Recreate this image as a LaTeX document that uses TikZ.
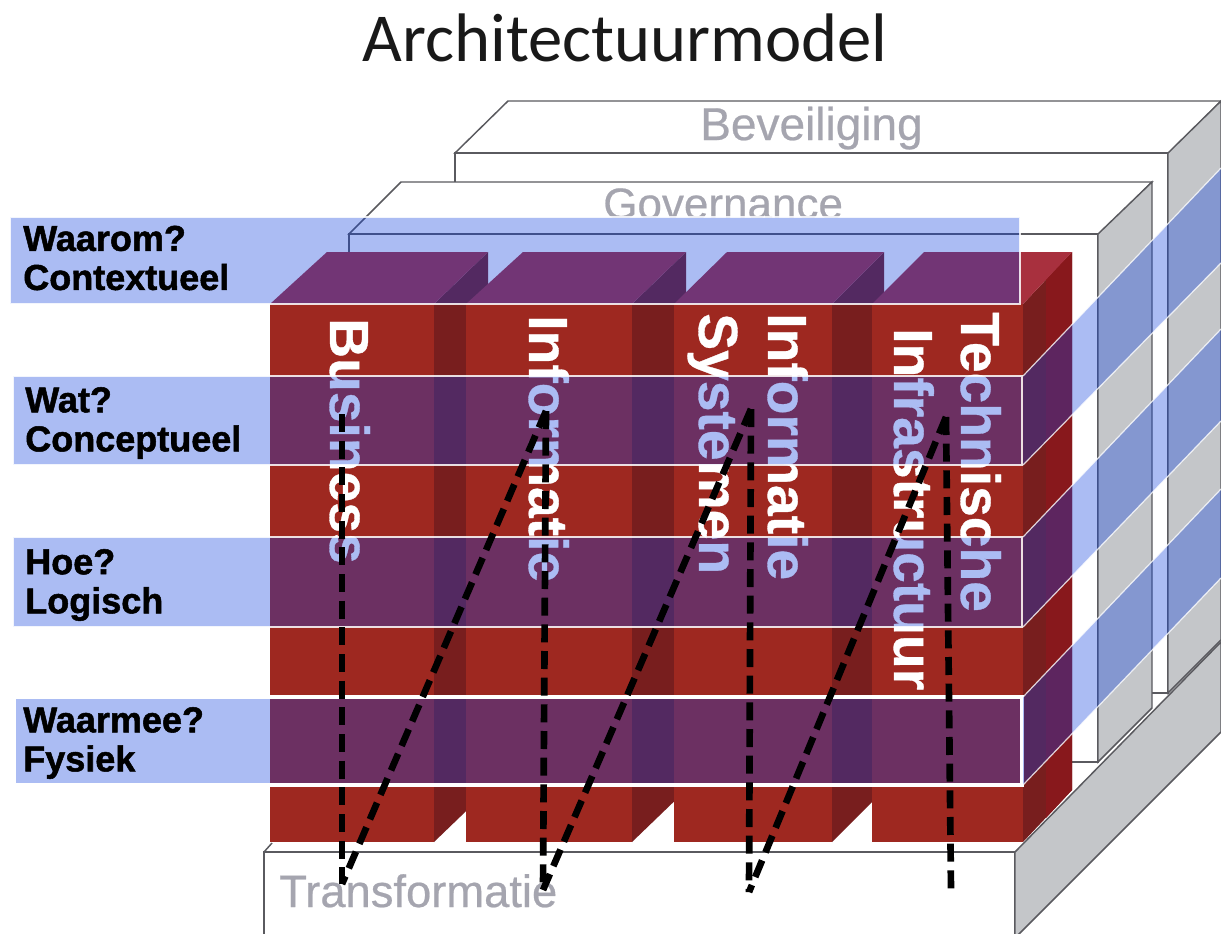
\documentclass[tikz,border=0pt]{standalone}
\usepackage{fontspec}
\setmainfont{Liberation Sans}
\newfontfamily\titlefont{Carlito}
\newfontfamily\heavyfont[FakeBold=1.4]{Liberation Sans Bold}
\newfontfamily\columnfont[FakeBold=0.6]{Liberation Sans Bold}
\newfontfamily\softfont[FakeBold=0.5]{Liberation Sans}
\definecolor{colfront}{RGB}{158,40,32}
\definecolor{colside}{RGB}{120,30,30}
\definecolor{colsidetwo}{RGB}{136,24,28}
\definecolor{coltop}{RGB}{168,48,62}
\definecolor{sidegray}{RGB}{196,198,201}
\definecolor{edgegray}{RGB}{90,90,95}
\definecolor{labgray}{RGB}{165,165,175}
\definecolor{bandblue}{RGB}{15,64,222}
\tikzset{
  x=0.75pt,y=-0.75pt,
  whiteface/.style={fill=white,draw=edgegray,line width=1.1pt},
  grayface/.style={fill=sidegray,draw=edgegray,line width=1.1pt},
  bandfront/.style={fill=bandblue,fill opacity=.35,draw=white,draw opacity=.85,line width=.9pt},
  bandstrong/.style={fill=bandblue,fill opacity=.35,draw=white,draw opacity=1,line width=2.6pt},
  bandside/.style={fill=bandblue,fill opacity=.35},
  bandedge/.style={draw=white,draw opacity=.8,line width=.9pt},
  collabel/.style={rotate=-90,anchor=base west,inner sep=0pt,text=white,font=\columnfont\fontsize{41.4}{46}\selectfont},
  graylabel/.style={anchor=base west,inner sep=0pt,text=labgray},
  rowlabel/.style={anchor=west,inner sep=0pt,align=left,text=black,font=\heavyfont\fontsize{27}{29.3}\selectfont},
  dashline/.style={draw=black,line width=5pt,dash pattern=on 13.5pt off 6.5pt},
}
\begin{document}
\begin{tikzpicture}
\useasboundingbox (0,0) rectangle (1221,933);
\clip (0,0) rectangle (1221,933);
\fill[white] (0,0) rectangle (1221,933);

% title
\node[anchor=base,inner sep=0pt,font=\titlefont\fontsize{51.5}{60}\selectfont,text=black!90] (title) at (625,61) {Architectuurmodel};

% Beveiliging block
\draw[whiteface] (455,153) -- (508,101) -- (1221,101) -- (1170,153) -- cycle;
\draw[whiteface] (455,153) rectangle (1168,693);
\draw[grayface] (1168,153) -- (1221,101) -- (1221,640) -- (1168,693) -- cycle;
\node[graylabel,font=\softfont\fontsize{34.5}{40}\selectfont] (bev) at (700,140) {Beveiliging};

% Governance block
\draw[whiteface] (349,234) -- (401,182) -- (1152,182) -- (1100,234) -- cycle;
\draw[whiteface] (349,234) rectangle (1098,762);
\draw[grayface] (1098,234) -- (1152,182) -- (1152,708) -- (1098,762) -- cycle;
\begin{scope}
\clip (500,150) rectangle (900,217);
\node[graylabel,font=\softfont\fontsize{33}{40}\selectfont] (gov) at (603,219) {Governance};
\end{scope}

% Transformatie block
\draw[edgegray,line width=1.1pt] (264,852) -- (272,843);
\draw[whiteface] (264,852) rectangle (1015,960);
\draw[grayface] (1015,852) -- (1221,642) -- (1221,732) -- (1015,938) -- cycle;
\node[graylabel,font=\softfont\fontsize{34}{40}\selectfont] (trans) at (279,907) {Transformatie};

% column 1
\fill[colside] (434,304) -- (488,252) -- (488,790) -- (434,842) -- cycle;
\fill[coltop] (270,304) -- (327,252) -- (488,252) -- (434,304) -- cycle;
\fill[colfront] (270,304) rectangle (434,842);
% column 2
\fill[colside] (632,304) -- (686,252) -- (686,790) -- (632,842) -- cycle;
\fill[coltop] (466,304) -- (523,252) -- (686,252) -- (632,304) -- cycle;
\fill[colfront] (466,304) rectangle (632,842);
% column 3
\fill[colside] (832,304) -- (884,252) -- (884,790) -- (832,842) -- cycle;
\fill[coltop] (674,304) -- (727,252) -- (884,252) -- (832,304) -- cycle;
\fill[colfront] (674,304) rectangle (832,842);
% column 4
\fill[colside] (1023,304) -- (1072,252) -- (1072,790) -- (1023,842) -- cycle;
\fill[colsidetwo] (1046,279) -- (1072,252) -- (1072,790) -- (1046,818) -- cycle;
\fill[coltop] (872,304) -- (924,252) -- (1072,252) -- (1023,304) -- cycle;
\fill[colfront] (872,304) rectangle (1023,842);

% column labels
\node[collabel] (business) at (330,318) {Business};
\node[collabel] (info) at (529,315) {Informatie};
\node[collabel] (infosys) at (768,313) {Informatie};
\node[collabel] (sys) at (699,313) {Systemen};
\node[collabel] (tech) at (961,312) {Technische};
\node[collabel] (infra) at (894,328) {Infrastructuur};

% bands
\path[bandfront] (10,217) rectangle (1020,304);
\path[bandfront] (13,376) rectangle (1022,465);
\path[bandfront] (13,537) rectangle (1022,627);
\path[bandstrong] (14,697) rectangle (1022,785);
\fill[bandside] (1023,376) -- (1221,168) -- (1221,263) -- (1023,465) -- cycle;
\fill[bandside] (1023,537) -- (1221,329) -- (1221,421) -- (1023,627) -- cycle;
\fill[bandside] (1023,697) -- (1221,489) -- (1221,578) -- (1023,785) -- cycle;
\draw[bandedge] (1023,376) -- (1221,168) (1023,465) -- (1221,263);
\draw[bandedge] (1023,537) -- (1221,329) (1023,627) -- (1221,421);
\draw[bandedge] (1023,697) -- (1221,489) (1023,785) -- (1221,578);

% row labels
\node[rowlabel] (waarom) at (23,258) {Waarom?\\Contextueel};
\node[rowlabel] (wat) at (25,423) {Wat?\\Conceptueel};
\node[rowlabel] (hoe) at (25,585) {Hoe?\\Logisch};
\node[rowlabel] (waarmee) at (23,743) {Waarmee?\\Fysiek};

% route
\coordinate (t1) at (342,414);
\coordinate (b1) at (342,884);
\coordinate (t2) at (546,411);
\coordinate (b2) at (543,890);
\coordinate (t3) at (751,409);
\coordinate (b3) at (749,892);
\coordinate (t4) at (946,417);
\coordinate (b4) at (951,890);
\draw[dashline] (t1) -- (b1);
\draw[dashline] (t2) -- (b1);
\draw[dashline] (t2) -- (b2);
\draw[dashline] (t3) -- (b2);
\draw[dashline] (t3) -- (b3);
\draw[dashline] (t4) -- (b3);
\draw[dashline] (t4) -- (b4);
\end{tikzpicture}
\end{document}
